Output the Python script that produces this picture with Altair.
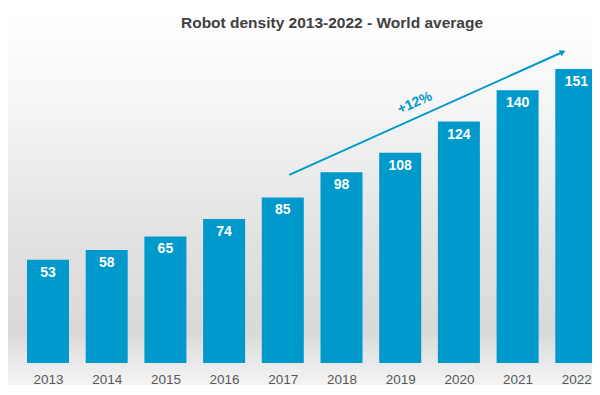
import altair as alt
import pandas as pd

years = [2013, 2014, 2015, 2016, 2017, 2018, 2019, 2020, 2021, 2022]
density = [53, 58, 65, 74, 85, 98, 108, 124, 140, 151]
title_text = "Robot density 2013-2022 - World average"
growth_label = "+12%"
arrow_x = [2017.11, 2021.77]
arrow_y = [96.6, 159.7]
growth_pos = [2019.25, 133.5]

BLUE = "#0099CC"
FONT = "Liberation Sans"

W, H = 584, 355
PITCH = 58.7          # pixels per year
BAR = 42              # bar width in pixels

df = pd.DataFrame({"year": years, "density": density})
arrow_df = pd.DataFrame({"x": arrow_x, "y": arrow_y})
head_df = pd.DataFrame({"x": [arrow_x[1]], "y": [arrow_y[1]]})
growth_df = pd.DataFrame({"x": [growth_pos[0]], "y": [growth_pos[1]], "t": [growth_label]})
title_df = pd.DataFrame({"t": [title_text]})
one = pd.DataFrame({"a": [0]})

x0 = 2013 - 40 / PITCH
xs = alt.Scale(domain=[x0, x0 + W / PITCH], nice=False, zero=False, padding=0)
ys = alt.Scale(domain=[0, 182.3], nice=False, zero=False, padding=0)

bg = alt.Chart(one).mark_rect(
    fill=alt.Gradient(
        gradient="linear", x1=0, y1=0, x2=0, y2=1,
        stops=[
            alt.GradientStop(offset=0, color="#ffffff"),
            alt.GradientStop(offset=0.25, color="#f6f6f6"),
            alt.GradientStop(offset=0.6, color="#e2e2e2"),
            alt.GradientStop(offset=0.85, color="#d9d9d9"),
            alt.GradientStop(offset=1, color="#f6f6f6"),
        ],
    )
).encode(x=alt.value(0), x2=alt.value(W), y=alt.value(0), y2=alt.value(380))

xenc = alt.X("year:Q", scale=xs, axis=alt.Axis(
    values=years, format="d", title=None, domain=False, ticks=False, grid=False,
    labelFontSize=13.5, labelColor="#595959", labelPadding=9, labelFlush=False,
    labelFont=FONT, zindex=1))
yenc = alt.Y("density:Q", scale=ys, axis=None)

bars = alt.Chart(df).mark_bar(size=BAR, color=BLUE).encode(x=xenc, y=yenc)
labels = alt.Chart(df).mark_text(color="white", fontWeight="bold", fontSize=14, font=FONT,
                                 baseline="middle", dy=13).encode(x=alt.X("year:Q", scale=xs),
                                                                  y=alt.Y("density:Q", scale=ys),
                                                                  text="density:Q")

line = alt.Chart(arrow_df).mark_line(color=BLUE, strokeWidth=2).encode(
    x=alt.X("x:Q", scale=xs), y=alt.Y("y:Q", scale=ys))
head = alt.Chart(head_df).mark_point(shape="triangle-right", angle=336, filled=True, opacity=1,
                                     color=BLUE, size=45).encode(
    x=alt.X("x:Q", scale=xs), y=alt.Y("y:Q", scale=ys))
pct = alt.Chart(growth_df).mark_text(angle=336, fontSize=14, fontWeight="bold", color=BLUE,
                                     font=FONT, baseline="middle").encode(
    x=alt.X("x:Q", scale=xs), y=alt.Y("y:Q", scale=ys), text="t:N")
title = alt.Chart(title_df).mark_text(fontSize=15.5, fontWeight="bold", color="#404040", font=FONT,
                                      baseline="middle").encode(
    x=alt.value(324), y=alt.value(15), text="t:N")

chart = alt.layer(bg, bars, labels, line, head, pct, title).properties(
    width=W, height=H,
    padding={"left": 0, "top": 0, "right": 0, "bottom": 22},
    autosize=alt.AutoSizeParams(type="none"),
).configure_view(stroke=None)

chart.save("out.html", embed_options={"renderer": "svg", "actions": False})
